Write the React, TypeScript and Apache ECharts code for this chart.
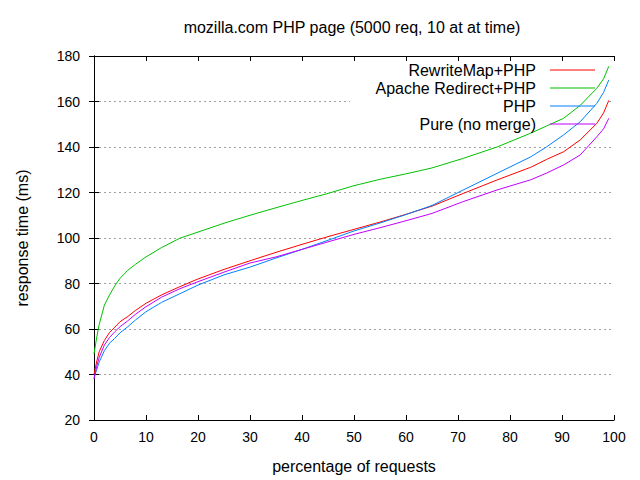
import React, { useEffect, useRef } from "react";
import * as echarts from "echarts";

const title = "mozilla.com PHP page (5000 req, 10 at at time)";
const xName = "percentage of requests";
const yName = "response time (ms)";

const percent = [0, 0.5, 1, 2, 3, 4, 5, 6.5, 8, 10, 13, 16.5, 20, 25, 30, 35, 40, 45, 50, 55, 60, 65, 71, 77.5, 84, 87, 90.3, 93.5, 96.7, 98, 99];

const seriesNames = ["RewriteMap+PHP", "Apache Redirect+PHP", "PHP", "Pure (no merge)"];
const seriesColors = ["#ff0000", "#00c000", "#0080ff", "#c000ff"];

const rewriteMap = [40, 45.5, 50, 55, 58.5, 60.8, 63.2, 65.5, 68.2, 71.3, 75, 78.6, 82, 86.2, 90, 93.7, 97.2, 100.6, 103.8, 107, 110.4, 114, 119.6, 125.5, 131.1, 134.5, 137.9, 143.1, 150.4, 155, 160.5];
const apacheRedirect = [49, 56, 62, 70.5, 75, 79, 82.3, 85.8, 88.5, 91.7, 95.8, 99.9, 102.6, 106.5, 110, 113.3, 116.5, 119.6, 123, 125.8, 128.2, 130.8, 135, 140, 146.1, 149.2, 152.6, 158.3, 165.8, 170, 175.5];
const php = [38.5, 42, 45.5, 50.5, 53.8, 55.9, 58.3, 61, 64, 67.6, 71.7, 75.5, 79.3, 83.8, 87.2, 91.2, 95, 99, 103.1, 106.6, 110.3, 114.3, 121.1, 128.4, 135.7, 140, 145.3, 151.1, 159.2, 164, 169.5];
const pure = [38, 43.5, 47.5, 53, 56.3, 58.8, 61, 63.6, 66.5, 69.8, 74, 77.7, 80.8, 85, 89, 91.7, 95, 98.3, 101.6, 104.5, 107.6, 110.8, 116, 121.1, 125.6, 128.5, 132.1, 136.5, 144.5, 148, 152.6];

const allValues = [rewriteMap, apacheRedirect, php, pure];

const FONT = "Liberation Sans, Arial, sans-serif";

export default function App() {
  const ref = useRef<HTMLDivElement>(null);
  useEffect(() => {
    if (!ref.current) return;
    const chart = echarts.init(ref.current, undefined, { renderer: "svg" });
    const axisLine = { show: true, lineStyle: { color: "#000", width: 1 } };
    const tick = { show: true, inside: true, length: 5, lineStyle: { color: "#000" } };
    const legendRowsY = [71, 89, 107, 125];
    chart.setOption({
      animation: false,
      backgroundColor: "#fff",
      textStyle: { fontFamily: FONT },
      title: {
        text: title,
        left: 347,
        textAlign: "center",
        top: 14,
        textStyle: { fontFamily: FONT, fontSize: 16, fontWeight: "normal", color: "#000" },
      },
      legend: seriesNames.map((n, i) => ({
        data: [{ name: n, icon: "rect" }],
        orient: "vertical",
        align: "right",
        right: 45,
        top: legendRowsY[i] - 9,
        padding: 0,
        itemWidth: 45,
        itemHeight: 1,
        selectedMode: false,
        itemStyle: { color: seriesColors[i], borderWidth: 0 },
        textStyle: { fontFamily: FONT, fontSize: 16, color: "#000", padding: [0, 9, 0, 0] },
      })),
      graphic: [
        {
          type: "rect",
          z: 1,
          shape: { x: 350, y: 63, width: 257, height: 77 },
          style: { fill: "#fff" },
          silent: true,
        },
      ],
      grid: { left: 94, right: 26, top: 56, bottom: 60, containLabel: false },
      xAxis: [
        {
          type: "value",
          min: 0,
          max: 100,
          interval: 10,
          name: xName,
          nameLocation: "middle",
          nameGap: 38,
          nameTextStyle: { fontFamily: FONT, fontSize: 16, color: "#000" },
          axisLine,
          axisTick: tick,
          axisLabel: { fontFamily: FONT, fontSize: 14, color: "#000", margin: 10 },
          splitLine: { show: false },
        },
        {
          type: "value",
          position: "top",
          min: 0,
          max: 100,
          interval: 10,
          axisLine,
          axisTick: tick,
          axisLabel: { show: false },
          splitLine: { show: false },
        },
      ],
      yAxis: [
        {
          type: "value",
          min: 20,
          max: 180,
          interval: 20,
          name: yName,
          nameLocation: "middle",
          nameGap: 64,
          nameTextStyle: { fontFamily: FONT, fontSize: 16, color: "#000" },
          axisLine,
          axisTick: tick,
          axisLabel: { fontFamily: FONT, fontSize: 14, color: "#000", margin: 14 },
          splitLine: { show: true, lineStyle: { color: "#a0a0a0", type: [2, 3], width: 1 } },
        },
        {
          type: "value",
          position: "right",
          min: 20,
          max: 180,
          interval: 20,
          axisLine,
          axisTick: tick,
          axisLabel: { show: false },
          splitLine: { show: false },
        },
      ],
      series: seriesNames.map((n, i) => ({
        name: n,
        type: "line",
        xAxisIndex: 0,
        yAxisIndex: 0,
        showSymbol: false,
        symbol: "none",
        smooth: false,
        z: 3,
        lineStyle: { color: seriesColors[i], width: 1 },
        itemStyle: { color: seriesColors[i] },
        data: percent.map((p, j) => [p, allValues[i][j]]),
      })),
    });
    return () => chart.dispose();
  }, []);
  return <div ref={ref} style={{ width: 640, height: 480, position: "absolute", left: 0, top: 0 }} />;
}
